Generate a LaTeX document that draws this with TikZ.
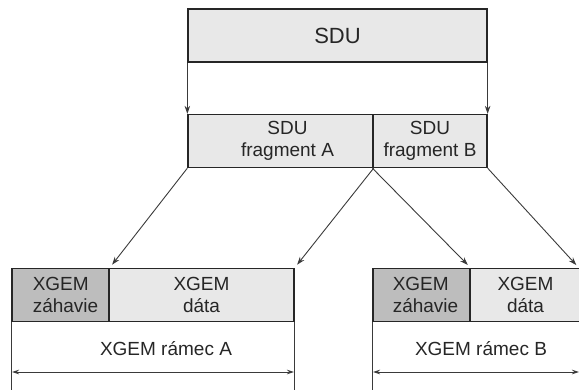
\documentclass[tikz,border=0pt]{standalone}
\usepackage{fontspec}
\setmainfont{Liberation Sans}
\usetikzlibrary{arrows.meta}
\definecolor{svetla}{HTML}{E8E8E8}
\definecolor{tmava}{HTML}{BDBDBD}
\definecolor{ciara}{HTML}{3A3A3A}
\begin{document}
\begin{tikzpicture}[x=1pt, y=-1pt,
    napis/.style={font=\fontsize{19}{21.5}\selectfont, text=black!85},
    pole/.style={draw=black!85, line width=1.3pt, fill=svetla, inner sep=0pt,
      align=center, napis, minimum height=53pt},
    hlavicka/.style={pole, fill=tmava},
    sipka/.style={draw=ciara, line width=0.9pt, -{Stealth[length=8pt,width=5.5pt]}},
    koty/.style={draw=ciara, line width=0.9pt, {Stealth[length=7pt,width=4.5pt]}-{Stealth[length=7pt,width=4.5pt]}}]
    \useasboundingbox (0,0) rectangle (579,389);

    \node[pole, minimum width=299pt, font=\fontsize{22}{26}\selectfont] (sdu) at (337.5,35.5) {SDU};
    \node[pole, minimum width=185pt,
      label={[napis, align=center, xshift=7pt]center:SDU\\fragment A}] (fragA) at (280.5,141) {};
    \node[pole, minimum width=114pt] (fragB) at (430,141) {SDU\\fragment B};

    \node[hlavicka, minimum width=97pt,
      label={[napis, align=left, xshift=5pt]center:XGEM\\záhavie}] (hlavA) at (60.5,295) {};
    \node[pole, minimum width=185pt] (dataA) at (201.5,295) {XGEM\\dáta};
    \node[hlavicka, minimum width=97pt,
      label={[napis, align=left, xshift=4pt]center:XGEM\\záhavie}] (hlavB) at (421.5,295) {};
    \node[pole, minimum width=111pt] (dataB) at (525.5,295) {XGEM\\dáta};

    % SDU -> fragmenty
    \draw[sipka] (sdu.south west) -- (fragA.north west);
    \draw[sipka] (sdu.south east) -- (fragB.north east);

    % fragmenty -> XGEM ramce
    \draw[sipka, shorten >=4pt] (fragA.south west) -- (hlavA.north east);
    \draw[sipka, shorten >=4pt] (fragA.south east) -- (dataA.north east);
    \draw[sipka, shorten >=4pt] (fragB.south west) -- (hlavB.north east);
    \draw[sipka, shorten >=4pt] (fragB.south east) -- (579,268);

    % ramec A
    \draw[draw=ciara, line width=0.9pt] (hlavA.south west) -- ++(0,70);
    \draw[draw=ciara, line width=0.9pt] (dataA.south east) -- ++(0,70);
    \node[napis] (ramA) at (166,349) {XGEM rámec A};
    \draw[koty] (12,372) -- (294,372);

    % ramec B
    \draw[draw=ciara, line width=0.9pt] (hlavB.south west) -- ++(0,70);
    \node[napis] (ramB) at (481,349) {XGEM rámec B};
    \draw[koty] (373,372) -- (579,372);
\end{tikzpicture}
\end{document}
